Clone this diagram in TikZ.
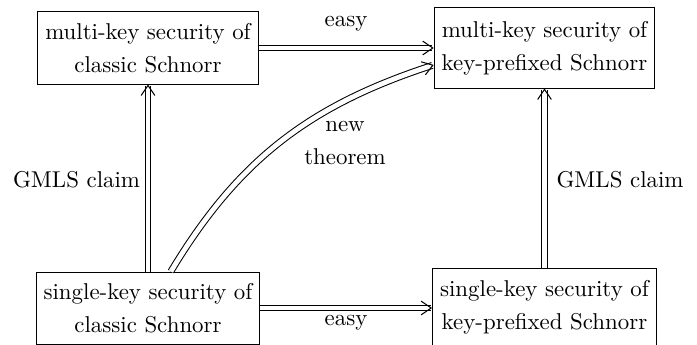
\documentclass[tikz,border=0pt]{standalone}
\usetikzlibrary{arrows.meta}
\tikzset{
  secbox/.style={draw,align=center,inner xsep=3.3pt,inner ysep=4pt},
  implies/.style={double,double distance=2.1pt,line width=0.45pt,
    -{Straight Barb[length=4.4pt,width=6pt,line width=0.45pt]}}
}
\begin{document}
\begin{tikzpicture}[x=0.437pt,y=-0.437pt,font=\fontsize{10}{14.4}\selectfont]
  \useasboundingbox (0,0) rectangle (697,345);
  \begin{scope}
    \node[secbox,minimum height=31.5pt] (mkclassic) at (148,48) {multi-key security of\\classic Schnorr};
    \node[secbox,minimum height=35pt] (mkprefix) at (544.5,48) {multi-key security of\\key-prefixed Schnorr};
    \node[secbox,minimum height=31.5pt] (skclassic) at (148,308) {single-key security of\\classic Schnorr};
    \node[secbox,minimum height=34pt] (skprefix) at (544.5,307.5) {single-key security of\\key-prefixed Schnorr};
    % reductions
    \draw[implies] (mkclassic.east) -- (mkprefix.west);
    \draw[implies] (skclassic.east) -- (skclassic.east -| skprefix.west);
    \draw[implies] (skclassic.north) -- (mkclassic.south);
    \draw[implies] (skprefix.north) -- (mkprefix.south);
    \draw[implies] ([xshift=10pt]skclassic.north) to[out=59,in=198] ([yshift=-7.4pt]mkprefix.west);
    \node at (346,24) {easy};
    \node at (346,323) {easy};
    \node at (76.5,180) {GMLS claim};
    \node at (620,180) {GMLS claim};
    \node[align=center] at (345,143) {new\\theorem};
  \end{scope}
\end{tikzpicture}
\end{document}
